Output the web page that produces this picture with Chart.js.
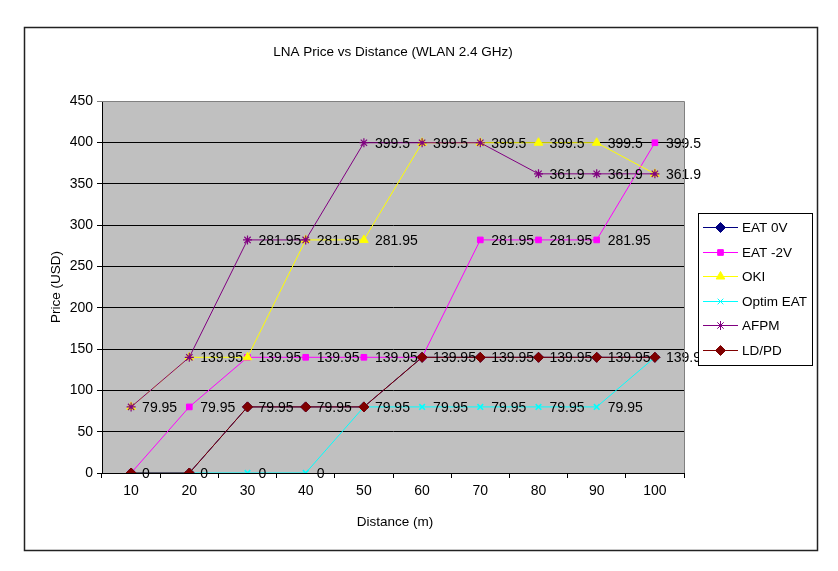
<!DOCTYPE html>
<html><head><meta charset="utf-8">
<script src="https://cdn.jsdelivr.net/npm/chart.js@4.4.1/dist/chart.umd.min.js"></script>
<style>html,body{margin:0;padding:0;background:#fff;}#wrap{width:838px;height:571px;position:relative}</style>
</head><body><div id="wrap"><canvas id="c" width="838" height="571"></canvas></div>
<script>
const categories = ['10','20','30','40','50','60','70','80','90','100'];
const eat0V      = [0, 0, 79.95, 79.95, 79.95, 139.95, 139.95, 139.95, 139.95, 139.95];
const eatMinus2V = [0, 79.95, 139.95, 139.95, 139.95, 139.95, 281.95, 281.95, 281.95, 399.5];
const oki        = [79.95, 139.95, 139.95, 281.95, 281.95, 399.5, 399.5, 399.5, 399.5, 361.9];
const optimEat   = [0, 0, 0, 0, 79.95, 79.95, 79.95, 79.95, 79.95, 139.95];
const afpm       = [79.95, 139.95, 281.95, 281.95, 399.5, 399.5, 399.5, 361.9, 361.9, 361.9];
const ldpd       = [0, 0, 79.95, 79.95, 79.95, 139.95, 139.95, 139.95, 139.95, 139.95];
const yTicks     = [0, 50, 100, 150, 200, 250, 300, 350, 400, 450];
const seriesNames = ['EAT 0V', 'EAT -2V', 'OKI', 'Optim EAT', 'AFPM', 'LD/PD'];
const chartTitle = 'LNA Price vs Distance (WLAN 2.4 GHz)';
const xTitle = 'Distance (m)';
const yTitle = 'Price (USD)';

const FONT = 'Liberation Sans, Arial, sans-serif';
const colors = ['#000080', '#FF00FF', '#FFFF00', '#00FFFF', '#800080', '#800000'];
const styles = ['rectRot', 'rect', 'triangle', 'crossRot', 'star', 'rectRot'];
const radii  = [5, 4, 5, 4, 4.5, 5];
const markerWidths = [1, 1, 1, 1.6, 1.2, 1];
const values = [eat0V, eatMinus2V, oki, optimEat, afpm, ldpd];

const datasets = values.map((v, i) => ({
  label: seriesNames[i],
  data: v,
  borderColor: colors[i],
  backgroundColor: colors[i],
  pointBackgroundColor: colors[i],
  pointBorderColor: colors[i],
  pointStyle: styles[i],
  pointRadius: radii[i],
  pointBorderWidth: markerWidths[i],
  borderWidth: 1,
  tension: 0,
  fill: false,
  order: values.length - 1 - i
}));

const decor = {
  id: 'decor',
  beforeDraw(chart) {
    const ctx = chart.ctx, a = chart.chartArea;
    ctx.save();
    ctx.fillStyle = '#fff';
    ctx.fillRect(0, 0, chart.width, chart.height);
    ctx.fillStyle = '#C0C0C0';
    ctx.fillRect(a.left, a.top, a.right - a.left, a.bottom - a.top);
    ctx.restore();
  },
  afterDatasetsDraw(chart) {
    const ctx = chart.ctx;
    ctx.save();
    ctx.font = '14px ' + FONT;
    ctx.fillStyle = '#000';
    ctx.textAlign = 'left';
    ctx.textBaseline = 'middle';
    const seen = new Set();
    chart.data.datasets.forEach((ds, i) => {
      const meta = chart.getDatasetMeta(i);
      meta.data.forEach((el, j) => {
        const txt = String(ds.data[j]);
        const key = Math.round(el.x) + '|' + Math.round(el.y) + '|' + txt;
        if (seen.has(key)) return;
        seen.add(key);
        ctx.fillText(txt, el.x + 11, el.y + 1);
      });
    });
    ctx.restore();
  },
  afterDraw(chart) {
    const ctx = chart.ctx, a = chart.chartArea;
    ctx.save();
    // plot area border (right & top)
    ctx.strokeStyle = '#808080';
    ctx.lineWidth = 1;
    ctx.beginPath();
    ctx.moveTo(a.left, a.top + 0.5); ctx.lineTo(a.right + 0.5, a.top + 0.5);
    ctx.lineTo(a.right + 0.5, a.bottom);
    ctx.stroke();
    // outer border
    ctx.strokeStyle = '#222';
    ctx.lineWidth = 1.5;
    ctx.strokeRect(24.5, 27.5, 793, 523);
    // titles
    ctx.fillStyle = '#000';
    ctx.textAlign = 'center';
    ctx.textBaseline = 'middle';
    ctx.font = '13.5px ' + FONT;
    ctx.fillText(chartTitle, 393, 52);
    ctx.fillText(xTitle, 395, 522);
    ctx.save();
    ctx.translate(56, (a.top + a.bottom) / 2);
    ctx.rotate(-Math.PI / 2);
    ctx.fillText(yTitle, 0, 0);
    ctx.restore();
    // legend
    const lx = 698, ly = 213, lw = 114, lh = 152;
    ctx.fillStyle = '#fff';
    ctx.fillRect(lx, ly, lw, lh);
    ctx.strokeStyle = '#000';
    ctx.lineWidth = 1;
    ctx.strokeRect(lx + 0.5, ly + 0.5, lw, lh);
    ctx.textAlign = 'left';
    ctx.font = '13.5px ' + FONT;
    seriesNames.forEach((name, i) => {
      const y = Math.round(ly + 14 + i * 24.5) + 0.5;
      ctx.strokeStyle = colors[i];
      ctx.fillStyle = colors[i];
      ctx.lineWidth = 1;
      ctx.beginPath();
      ctx.moveTo(lx + 5, y); ctx.lineTo(lx + 40, y);
      ctx.stroke();
      Chart.helpers.drawPoint(ctx, {pointStyle: styles[i], radius: radii[i], rotation: 0, borderWidth: markerWidths[i]}, lx + 22.5, y);
      ctx.fillStyle = '#000';
      ctx.fillText(name, lx + 44, y + 0.5);
    });
    ctx.restore();
  }
};

new Chart(document.getElementById('c'), {
  type: 'line',
  data: { labels: categories, datasets },
  options: {
    responsive: false,
    animation: false,
    layout: { padding: { left: 0, top: 101, right: 154, bottom: 0 } },
    plugins: { legend: { display: false }, title: { display: false }, tooltip: { enabled: false } },
    scales: {
      x: {
        type: 'category',
        offset: true,
        grid: { offset: true, drawOnChartArea: false, drawTicks: true, tickLength: 5, color: '#000', lineWidth: 1 },
        border: { display: true, color: '#000', width: 1 },
        ticks: { color: '#000', font: { family: FONT, size: 14 }, padding: 5, maxRotation: 0, autoSkip: false },
        afterFit(s) { s.height = 98; }
      },
      y: {
        min: 0, max: 450,
        afterBuildTicks(s) { s.ticks = yTicks.map(v => ({ value: v })); },
        grid: {
          color: c => (c.tick && c.tick.value === 450) ? '#808080' : '#000',
          drawTicks: true, tickLength: 5, lineWidth: 1
        },
        border: { display: true, color: '#000', width: 1 },
        ticks: { color: '#000', font: { family: FONT, size: 14 }, padding: 4 },
        afterFit(s) { s.width = 102; }
      }
    }
  },
  plugins: [decor]
});
</script>
</body></html>
